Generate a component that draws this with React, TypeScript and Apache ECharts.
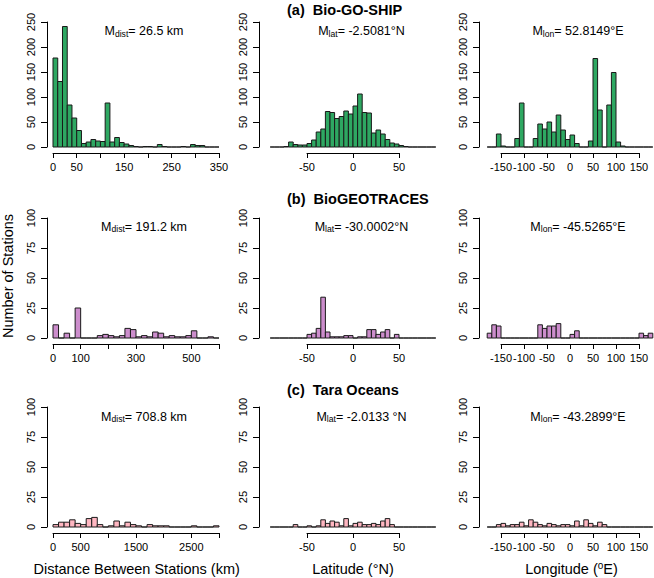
import React, { useEffect, useRef } from 'react';
import * as echarts from 'echarts';

// ---------- DATA ----------
// Bin definitions: [start, width]
const distBinsGoShip = [0, 10];
const distBinsGeo = [0, 20];
const distBinsTara = [0, 100];
const latBins = [-90, 5];
const lonBins = [-180, 10];

// (a) Bio-GO-SHIP
const goshipDistCounts = [178, 131, 241, 84, 58, 33, 7, 10, 15, 12, 11, 88, 10, 19, 9, 6, 3, 1, 0, 1, 1, 0, 5, 1, 0, 0, 0, 1, 0, 5, 3, 3, 0, 0, 0];
const goshipLatCounts = [0, 0, 0, 1, 10, 5, 4, 4, 7, 14, 30, 36, 71, 69, 57, 61, 72, 66, 82, 106, 69, 68, 28, 34, 26, 15, 8, 6, 3, 1, 0, 0, 0, 0, 0, 0];
const goshipLonCounts = [0, 0, 26, 2, 0, 0, 17, 88, 0, 0, 17, 46, 36, 50, 30, 64, 34, 15, 24, 7, 0, 0, 12, 177, 74, 0, 84, 149, 10, 2, 0, 0, 0, 0, 0, 0];

// (b) BioGEOTRACES
const geoDistCounts = [11, 0, 4, 0, 25, 0, 0, 0, 2, 3, 2, 1, 2, 8, 7, 1, 2, 1, 5, 4, 1, 2, 1, 1, 2, 6, 0, 0, 1, 0];
const geoLatCounts = [0, 0, 0, 0, 0, 0, 0, 0, 3, 4, 8, 34, 5, 1, 1, 1, 2, 2, 0, 1, 1, 7, 7, 3, 5, 7, 0, 3, 0, 0, 0, 0, 0, 0, 0, 0];
const geoLonCounts = [4, 11, 10, 0, 0, 0, 0, 0, 0, 0, 0, 11, 8, 10, 10, 12, 0, 0, 3, 6, 0, 0, 0, 0, 0, 0, 0, 0, 0, 0, 0, 0, 0, 4, 2, 4];

// (c) Tara Oceans
const taraDistCounts = [2, 4, 4, 6, 3, 2, 7, 8, 2, 0, 1, 5, 1, 4, 2, 1, 0, 2, 1, 1, 1, 0, 0, 0, 0, 1, 0, 0, 0, 1];
const taraLatCounts = [0, 0, 0, 0, 0, 2, 0, 0, 1, 0, 1, 6, 3, 5, 4, 1, 7, 1, 3, 4, 2, 2, 3, 2, 5, 7, 2, 0, 0, 0, 0, 0, 0, 0, 0, 0];
const taraLonCounts = [0, 0, 2, 3, 1, 2, 2, 4, 1, 6, 4, 2, 1, 3, 2, 1, 2, 2, 1, 5, 1, 6, 3, 1, 4, 2, 0, 0, 0, 0, 0, 0, 0, 0, 0, 0];

// Axis ranges [min, max, interval]
const distAxisGoShip = [0, 350, 50];
const distAxisGeo = [0, 600, 100];
const distAxisTara = [0, 3000, 500];
const latAxis = [-50, 50, 50];
const lonAxis = [-150, 150, 50];
const countAxisA = [0, 250, 50];
const countAxisBC = [0, 100, 25];

// Tick labels shown
const goshipDistLabels = [0, 50, 150, 250, 350];
const geoDistLabels = [0, 100, 300, 500];
const taraDistLabels = [0, 500, 1500, 2500];
const latLabels = [-50, 0, 50];
const lonLabels = [-150, -100, -50, 0, 50, 100, 150];
const countLabelsA = [0, 50, 100, 150, 200, 250];
const countLabelsBC = [0, 25, 50, 75, 100];

// Texts
const rowTitles = ['(a)  Bio-GO-SHIP', '(b)  BioGEOTRACES', '(c)  Tara Oceans'];
const meanSubs = ['dist', 'lat', 'lon'];
const meanValues = [
  ['26.5 km', '-2.5081\u00B0N', '52.8149\u00B0E'],
  ['191.2 km', '-30.0002\u00B0N', '-45.5265\u00B0E'],
  ['708.8 km', '-2.0133 \u00B0N', '-43.2899\u00B0E'],
];
const yTitle = 'Number of Stations';
const xTitleDist = 'Distance Between Stations (km)';
const xTitleLat = 'Latitude (\u00B0N)';
const xTitleLonMain = 'Longitude (';
const xTitleLonSup = 'o';
const xTitleLonEnd = 'E)';

const rowColors = ['#2EA862', '#CC8DCC', '#FFB6C1'];

// ---------- LAYOUT ----------
const FONT = '"Liberation Sans", Arial, Helvetica, sans-serif';
const colLeft = [53, 307, 501];
const colWidth = [166, 92, 138];
const yAxisX = [47, 259, 479];
const rowTop = [22, 218, 407];
const rowHeight = [125, 120, 120];
const meanX = [144, 361.5, 578];
const meanY = [31, 226.5, 416.5];
const titleX = 287;
const titleY = [9.5, 198.5, 389.5];
const xTitleX = [136.7, 353, 571.5];
const xTitleY = 569;
const yLabelGap = 11;

type Panel = {
  counts: number[];
  bins: number[];
  axis: number[];
  yaxis: number[];
  labels: number[];
  ylabels: number[];
};

const panels: Panel[] = [
  { counts: goshipDistCounts, bins: distBinsGoShip, axis: distAxisGoShip, yaxis: countAxisA, labels: goshipDistLabels, ylabels: countLabelsA },
  { counts: goshipLatCounts, bins: latBins, axis: latAxis, yaxis: countAxisA, labels: latLabels, ylabels: countLabelsA },
  { counts: goshipLonCounts, bins: lonBins, axis: lonAxis, yaxis: countAxisA, labels: lonLabels, ylabels: countLabelsA },
  { counts: geoDistCounts, bins: distBinsGeo, axis: distAxisGeo, yaxis: countAxisBC, labels: geoDistLabels, ylabels: countLabelsBC },
  { counts: geoLatCounts, bins: latBins, axis: latAxis, yaxis: countAxisBC, labels: latLabels, ylabels: countLabelsBC },
  { counts: geoLonCounts, bins: lonBins, axis: lonAxis, yaxis: countAxisBC, labels: lonLabels, ylabels: countLabelsBC },
  { counts: taraDistCounts, bins: distBinsTara, axis: distAxisTara, yaxis: countAxisBC, labels: taraDistLabels, ylabels: countLabelsBC },
  { counts: taraLatCounts, bins: latBins, axis: latAxis, yaxis: countAxisBC, labels: latLabels, ylabels: countLabelsBC },
  { counts: taraLonCounts, bins: lonBins, axis: lonAxis, yaxis: countAxisBC, labels: lonLabels, ylabels: countLabelsBC },
];

function buildOption() {
  const grid: any[] = [];
  const xAxis: any[] = [];
  const yAxis: any[] = [];
  const series: any[] = [];

  panels.forEach((p, i) => {
    const r = Math.floor(i / 3);
    const c = i % 3;
    const color = rowColors[r];
    const yOffset = colLeft[c] - yAxisX[c];
    grid.push({ left: colLeft[c], width: colWidth[c], top: rowTop[r], height: rowHeight[r], containLabel: false });
    xAxis.push({
      type: 'value', gridIndex: i, min: p.axis[0], max: p.axis[1], interval: p.axis[2],
      offset: 6,
      axisLine: { show: true, onZero: false, lineStyle: { color: '#000', width: 1 } },
      axisTick: { show: true, inside: false, length: 5, lineStyle: { color: '#000', width: 1 } },
      axisLabel: {
        show: true, fontSize: 11, fontFamily: FONT, color: '#000', margin: 8,
        showMinLabel: true, showMaxLabel: true, hideOverlap: false,
        formatter: (v: number) => (p.labels.indexOf(v) >= 0 ? String(v) : ''),
      },
      splitLine: { show: false },
    });
    yAxis.push({
      type: 'value', gridIndex: i, min: p.yaxis[0], max: p.yaxis[1], interval: p.yaxis[2],
      offset: yOffset,
      axisLine: { show: true, onZero: false, lineStyle: { color: '#000', width: 1 } },
      axisTick: { show: true, inside: false, length: 6, lineStyle: { color: '#000', width: 1 } },
      axisLabel: { show: false },
      splitLine: { show: false },
    });
    const data = p.counts.map((n, k) => [p.bins[0] + k * p.bins[1], p.bins[0] + (k + 1) * p.bins[1], n]);
    series.push({
      type: 'custom', xAxisIndex: i, yAxisIndex: i, clip: false, silent: true,
      encode: { x: [0, 1], y: 2 },
      data,
      renderItem: (params: any, api: any) => {
        const x0 = api.value(0);
        const x1 = api.value(1);
        const n = api.value(2);
        const p0 = api.coord([x0, 0]);
        const p1 = api.coord([x1, n]);
        return {
          type: 'rect',
          shape: { x: p0[0], y: p1[1], width: p1[0] - p0[0], height: p0[1] - p1[1] },
          style: { fill: color, stroke: '#1a1a1a', lineWidth: 1 },
        };
      },
    });
    // rotated y tick labels, placed through the y scale
    series.push({
      type: 'custom', xAxisIndex: i, yAxisIndex: i, clip: false, silent: true,
      encode: { x: 0, y: 1 },
      data: p.ylabels.map((v) => [p.axis[0], v]),
      renderItem: (params: any, api: any) => {
        const v = api.value(1);
        const pt = api.coord([api.value(0), v]);
        return {
          type: 'text',
          x: pt[0] - yOffset - yLabelGap,
          y: pt[1],
          rotation: Math.PI / 2,
          style: {
            text: String(v), font: `11px ${FONT}`, fill: '#000',
            align: 'center', verticalAlign: 'bottom', textAlign: 'center', textVerticalAlign: 'bottom',
          },
        };
      },
    });
  });

  const graphic: any[] = [];
  rowTitles.forEach((t, r) => {
    graphic.push({
      type: 'text', x: titleX, y: titleY[r],
      style: { text: t, font: `bold 14.5px ${FONT}`, fill: '#000', align: 'left', verticalAlign: 'middle', textAlign: 'left', textVerticalAlign: 'middle' },
    });
  });
  meanValues.forEach((rowVals, r) => {
    rowVals.forEach((val, c) => {
      graphic.push({
        type: 'text', x: meanX[c], y: meanY[r],
        style: {
          text: `{m|M}{s|${meanSubs[c]}}{m|= ${val}}`,
          rich: {
            m: { fontSize: 12.5, fontFamily: FONT, fill: '#000', color: '#000', lineHeight: 14 },
            s: { fontSize: 8.6, fontFamily: FONT, fill: '#000', color: '#000', lineHeight: 6, verticalAlign: 'bottom' },
          },
          align: 'center', verticalAlign: 'middle', textAlign: 'center', textVerticalAlign: 'middle',
        },
      });
    });
  });
  graphic.push({
    type: 'text', x: 8, y: 276, rotation: Math.PI / 2,
    style: { text: yTitle, font: `14.5px ${FONT}`, fill: '#000', align: 'center', verticalAlign: 'middle', textAlign: 'center', textVerticalAlign: 'middle' },
  });
  graphic.push({
    type: 'text', x: xTitleX[0], y: xTitleY,
    style: { text: xTitleDist, font: `14.5px ${FONT}`, fill: '#000', align: 'center', verticalAlign: 'middle', textAlign: 'center', textVerticalAlign: 'middle' },
  });
  graphic.push({
    type: 'text', x: xTitleX[1], y: xTitleY,
    style: { text: xTitleLat, font: `14.5px ${FONT}`, fill: '#000', align: 'center', verticalAlign: 'middle', textAlign: 'center', textVerticalAlign: 'middle' },
  });
  graphic.push({
    type: 'text', x: xTitleX[2], y: xTitleY,
    style: {
      text: `{t|${xTitleLonMain}}{o|${xTitleLonSup}}{t|${xTitleLonEnd}}`,
      rich: {
        t: { fontSize: 14.5, fontFamily: FONT, fill: '#000', color: '#000', lineHeight: 17 },
        o: { fontSize: 10, fontFamily: FONT, fill: '#000', color: '#000', lineHeight: 11, verticalAlign: 'top' },
      },
      align: 'center', verticalAlign: 'middle', textAlign: 'center', textVerticalAlign: 'middle',
    },
  });

  return {
    animation: false,
    backgroundColor: '#ffffff',
    grid, xAxis, yAxis, series, graphic,
  };
}

export default function App() {
  const ref = useRef<HTMLDivElement>(null);
  useEffect(() => {
    if (!ref.current) return;
    const chart = echarts.init(ref.current, undefined, { renderer: 'svg' });
    chart.setOption(buildOption() as any);
    return () => chart.dispose();
  }, []);
  return <div ref={ref} style={{ position: 'fixed', left: 0, top: 0, width: 654, height: 578, background: '#fff' }} />;
}
